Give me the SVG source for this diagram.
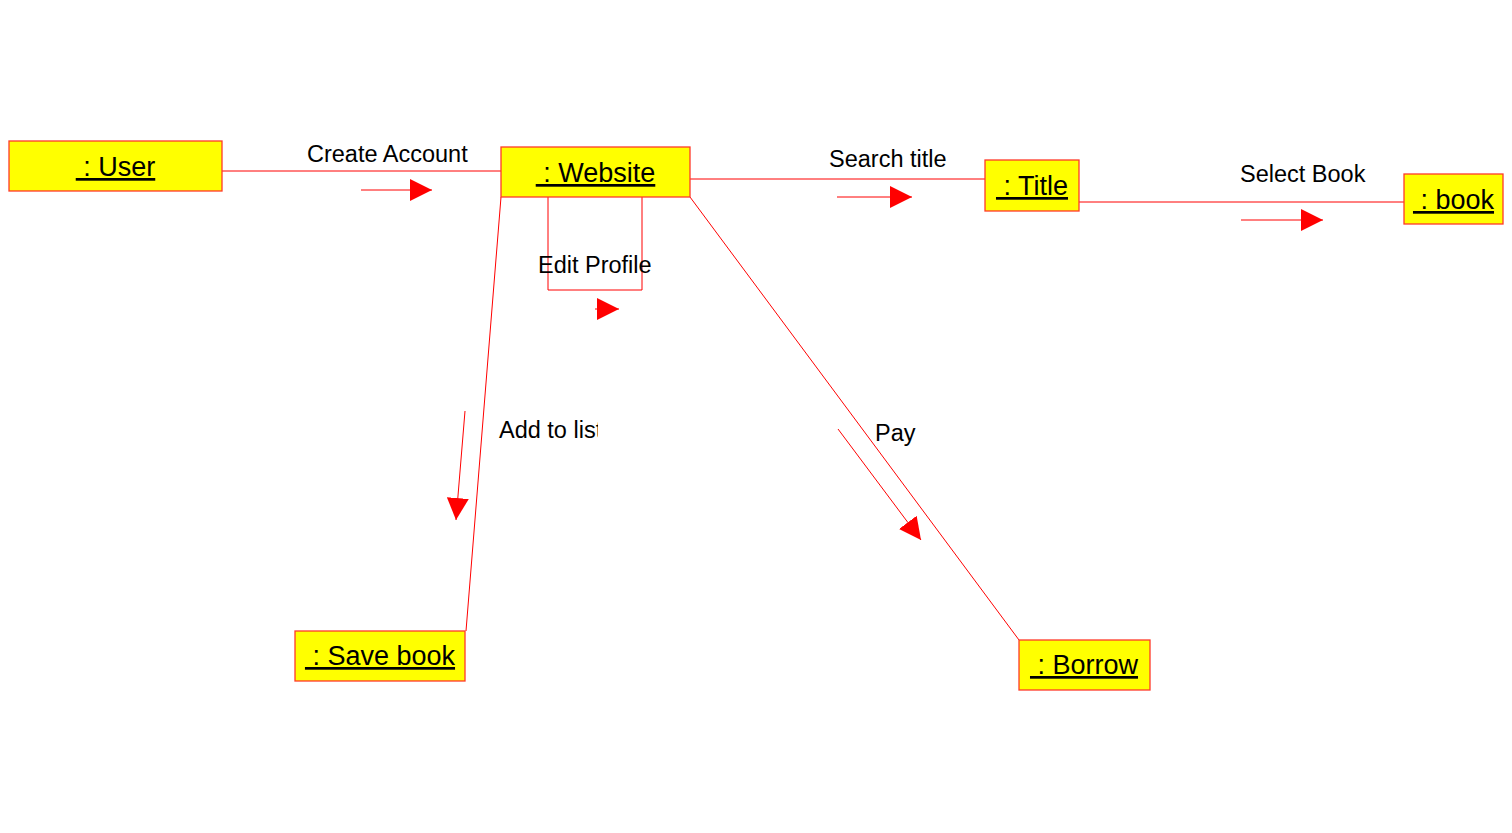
<svg xmlns="http://www.w3.org/2000/svg" width="1512" height="833" viewBox="0 0 1512 833" xml:space="preserve">
<style>
.box{fill:#ffff00;stroke:#ff3a2a;stroke-width:1.3}
.nt{font-family:"Liberation Sans",Arial,sans-serif;font-size:27px;fill:#000;text-anchor:middle;text-decoration:underline;white-space:pre}
.lbl{font-family:"Liberation Sans",Arial,sans-serif;font-size:23.5px;fill:#000}
.link{stroke:#ff0000;stroke-width:1;fill:none}
.msg{stroke:#ff0000;stroke-width:1;fill:none;marker-end:url(#tri)}
</style>
<defs>
<marker id="tri" markerUnits="userSpaceOnUse" markerWidth="22" markerHeight="22" refX="20" refY="10" orient="auto" viewBox="0 0 20 20">
<path d="M0,0 L20,10 L0,20 z" fill="#ff0000"/>
</marker>
<clipPath id="clipAdd"><rect x="490" y="400" width="108" height="50"/></clipPath>
</defs>
<rect width="1512" height="833" fill="#ffffff"/>
<g id="connectors">
<line class="link" x1="222" y1="171" x2="501" y2="171"/>
<line class="link" x1="690" y1="179" x2="985" y2="179"/>
<line class="link" x1="1079" y1="202" x2="1404" y2="202"/>
<polyline class="link" points="548,197 548,290 642,290 642,197"/>
<line class="link" x1="501" y1="197" x2="466" y2="631"/>
<line class="link" x1="690" y1="197" x2="1019" y2="640"/>
<line class="msg" x1="361" y1="190" x2="432" y2="190"/>
<line class="msg" x1="837" y1="197" x2="912" y2="197"/>
<line class="msg" x1="1241" y1="220" x2="1323" y2="220"/>
<line class="msg" x1="595" y1="309" x2="619" y2="309"/>
<line class="msg" x1="465" y1="411" x2="456" y2="520"/>
<line class="msg" x1="838" y1="429" x2="921" y2="540"/>
<text class="lbl" x="307" y="162">Create Account</text>
<text class="lbl" x="829" y="167">Search title</text>
<text class="lbl" x="1240" y="182">Select Book</text>
<text class="lbl" x="538" y="273">Edit Profile</text>
<text class="lbl" x="499" y="438" clip-path="url(#clipAdd)">Add to list</text>
<text class="lbl" x="875" y="441">Pay</text>
</g>
<g id="user">
<rect class="box" x="9" y="141" width="213" height="50"/>
<text class="nt" x="115.5" y="176"> : User</text>
</g>
<g id="website">
<rect class="box" x="501" y="147" width="189" height="50"/>
<text class="nt" x="595.5" y="182"> : Website</text>
</g>
<g id="title">
<rect class="box" x="985" y="160" width="94" height="51"/>
<text class="nt" x="1032" y="195"> : Title</text>
</g>
<g id="book">
<rect class="box" x="1404" y="174" width="99" height="50"/>
<text class="nt" x="1453.5" y="209"> : book</text>
</g>
<g id="savebook">
<rect class="box" x="295" y="631" width="170" height="50"/>
<text class="nt" x="380" y="665"> : Save book</text>
</g>
<g id="borrow">
<rect class="box" x="1019" y="640" width="131" height="50"/>
<text class="nt" x="1084" y="674"> : Borrow</text>
</g>
</svg>
